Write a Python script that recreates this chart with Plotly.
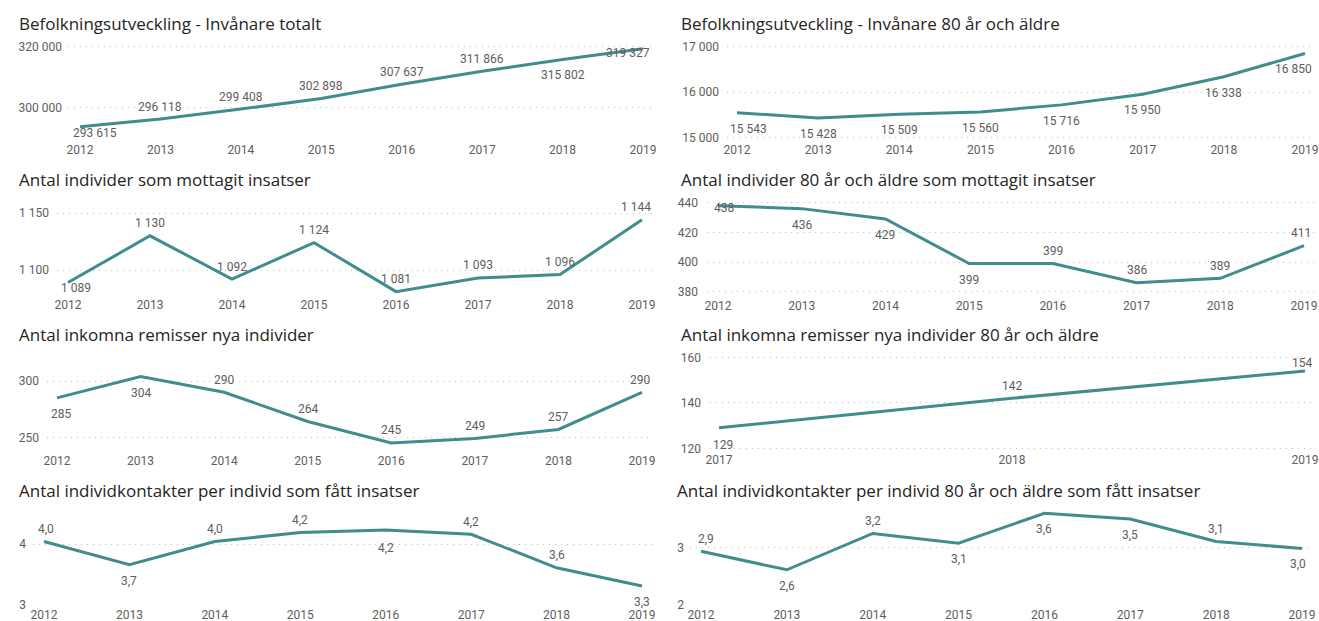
import plotly.graph_objects as go

W, H = 1319, 621

# ---------------- data ----------------
years = [2012, 2013, 2014, 2015, 2016, 2017, 2018, 2019]
years_short = [2017, 2018, 2019]

inv_totalt = [293615, 296118, 299408, 302898, 307637, 311866, 315802, 319327]
inv_80 = [15543, 15428, 15509, 15560, 15716, 15950, 16338, 16850]
ind_insatser = [1089, 1130, 1092, 1124, 1081, 1093, 1096, 1144]
ind80_insatser = [438, 436, 429, 399, 399, 386, 389, 411]
remisser = [285, 304, 290, 264, 245, 249, 257, 290]
remisser80 = [129, 142, 154]
kontakter = [4.04, 3.66, 4.04, 4.19, 4.23, 4.16, 3.61, 3.31]
kontakter80 = [2.93, 2.61, 3.24, 3.07, 3.59, 3.49, 3.10, 2.98]

titles = [
    "Befolkningsutveckling - Invånare totalt",
    "Befolkningsutveckling - Invånare 80 år och äldre",
    "Antal individer som mottagit insatser",
    "Antal individer 80 år och äldre som mottagit insatser",
    "Antal inkomna remisser nya individer",
    "Antal inkomna remisser nya individer 80 år och äldre",
    "Antal individkontakter per individ som fått insatser",
    "Antal individkontakter per individ 80 år och äldre som fått insatser",
]

y_ticks = [
    [300000, 320000],
    [15000, 16000, 17000],
    [1100, 1150],
    [380, 400, 420, 440],
    [250, 300],
    [120, 140, 160],
    [3, 4],
    [2, 3],
]

series = [
    (years, inv_totalt, 0),
    (years, inv_80, 0),
    (years, ind_insatser, 0),
    (years, ind80_insatser, 0),
    (years, remisser, 0),
    (years_short, remisser80, 0),
    (years, kontakter, 1),
    (years, kontakter80, 1),
]

# ---------------- layout (pixels) ----------------
# x0,x1: plot area; pf,pl: pixel of first/last category; t1,t2: (tick value, pixel y)
panels = [
    dict(x0=68, x1=652, pf=80, pl=643, t1=(320000, 46.7), t2=(300000, 107.3), top=40, bottom=141, tx=17, ty=24, so=5),
    dict(x0=727, x1=1314, pf=737, pl=1305, t1=(17000, 46.7), t2=(15000, 137.3), top=40, bottom=141, tx=679, ty=24, so=7),
    dict(x0=57, x1=652, pf=68, pl=642, t1=(1150, 213), t2=(1100, 270), top=198, bottom=296, tx=17, ty=179.3, so=7),
    dict(x0=707, x1=1314, pf=718, pl=1304, t1=(440, 202.7), t2=(380, 291.7), top=198, bottom=296.5, tx=679, ty=179.3, so=8),
    dict(x0=47, x1=652, pf=57, pl=642, t1=(300, 381), t2=(250, 437.3), top=355, bottom=451.5, tx=17, ty=335, so=7),
    dict(x0=710, x1=1314, pf=719, pl=1305, t1=(160, 357.3), t2=(120, 448.3), top=352, bottom=451, tx=679, ty=335, so=8),
    dict(x0=33, x1=652, pf=44, pl=642, t1=(4, 544), t2=(3, 605), top=510, bottom=605.5, tx=17, ty=490.7, so=6),
    dict(x0=690, x1=1314, pf=701, pl=1302, t1=(3, 547.3), t2=(2, 605), top=510, bottom=605.5, tx=675, ty=490.7, so=5),
]

A, B = -12.5, 16
label_offsets = [
    [(15, 6.6), (0, A), (0, A), (0, A), (0, A), (0, A), (0, B), (-15, 4)],
    [(11, B), (0, B), (0, B), (0, B), (0, B), (0, B), (0, B), (-12, B)],
    [(8, 5.5), (0, A), (0, A), (0, A), (0, A), (0, A), (0, A), (-6, A)],
    [(5.5, 2.6), (0, B), (0, B), (0, B), (0, A), (0, A), (0, A), (-3, A)],
    [(4, B), (0, B), (0, A), (0, A), (0, A), (0, A), (0, A), (-2, A)],
    [(4, 17), (0, A), (-3, -8)],
    [(2, A), (0, B), (0, A), (0, A), (0, 18), (0, A), (0, A), (0, B)],
    [(4.5, A), (0, B), (0, A), (0, B), (0, B), (0, B), (0, A), (-4.5, B)],
]

LINE = "#408C8E"
GRID = "#BDBDBD"
TICK = "#605E5C"
LABEL = "#605E5C"
TITLE = "#252423"
FONT = "Roboto"
TFONT = "Open Sans"


def fmt(v, dec):
    if dec:
        return f"{v:.{dec}f}".replace(".", ",")
    return f"{v:,.0f}".replace(",", " ")


fig = go.Figure()
annotations = []

for i, ((xs, ys, dec), p) in enumerate(zip(series, panels)):
    n = "" if i == 0 else str(i + 1)
    xa, ya = "x" + n, "y" + n
    # x range
    u = (xs[-1] - xs[0]) / (p["pl"] - p["pf"])
    xr = [xs[0] - (p["pf"] - p["x0"]) * u, xs[-1] + (p["x1"] - p["pl"]) * u]
    # y range
    (v1, p1), (v2, p2) = p["t1"], p["t2"]
    k = (v1 - v2) / (p2 - p1)
    yr = [v1 - (p["bottom"] - p1) * k, v1 + (p1 - p["top"]) * k]

    fig.add_trace(go.Scatter(
        x=xs, y=ys, mode="lines", xaxis=xa, yaxis=ya,
        line=dict(color=LINE, width=3), hoverinfo="skip", showlegend=False,
    ))

    fig.layout["xaxis" + n] = dict(
        domain=[p["x0"] / W, p["x1"] / W], range=xr, anchor=ya,
        tickvals=xs, ticktext=[str(x) for x in xs], showgrid=False,
        zeroline=False, showline=False, ticks="", fixedrange=True,
        automargin=False,
        tickfont=dict(family=FONT, size=12, color=TICK),
    )
    fig.layout["yaxis" + n] = dict(
        domain=[1 - p["bottom"] / H, 1 - p["top"] / H], range=yr, anchor=xa,
        tickvals=y_ticks[i], ticktext=[fmt(v, 0) for v in y_ticks[i]],
        showgrid=True, gridcolor=GRID, griddash="1px,5px", gridwidth=1,
        zeroline=False, showline=False, ticks="", fixedrange=True,
        automargin=False, ticklabelstandoff=p["so"],
        tickfont=dict(family=FONT, size=12, color=TICK),
    )

    for (x, y), (dx, dy) in zip(zip(xs, ys), label_offsets[i]):
        annotations.append(dict(
            x=x, y=y, xref=xa, yref=ya, text=fmt(y, dec), showarrow=False,
            xshift=dx, yshift=-dy, xanchor="center", yanchor="middle",
            font=dict(family=FONT, size=12, color=LABEL),
        ))

    annotations.append(dict(
        x=p["tx"] / W, y=1 - p["ty"] / H, xref="paper", yref="paper",
        text=titles[i], showarrow=False, xanchor="left", yanchor="middle",
        font=dict(family=TFONT, size=17, color=TITLE),
    ))

fig.update_layout(
    width=W, height=H, margin=dict(l=0, r=0, t=0, b=0, autoexpand=False),
    paper_bgcolor="white", plot_bgcolor="white",
    annotations=annotations, showlegend=False,
)

fig.write_html("out.html", config={"displayModeBar": False},
               post_script="document.body.style.margin='0';document.body.style.overflow='hidden';")
